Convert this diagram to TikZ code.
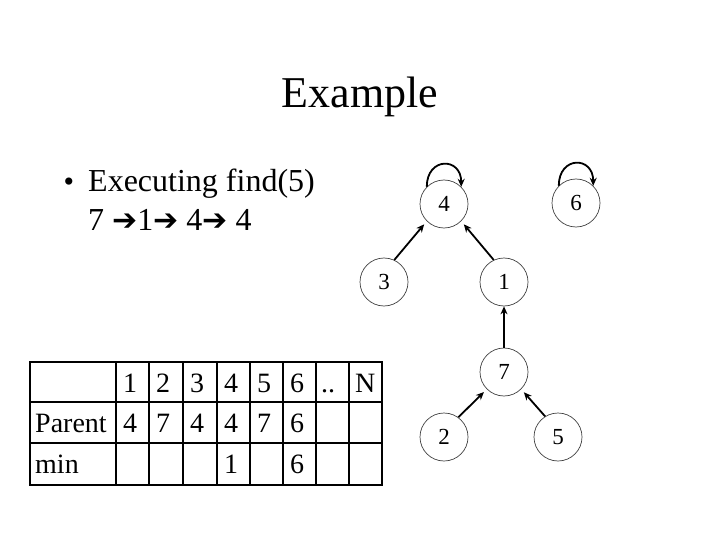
\documentclass[tikz,border=0pt]{standalone}
\usepackage{fontspec}
\setmainfont{Liberation Serif}
\newfontfamily\arrowfont{DejaVu Sans}
\usetikzlibrary{arrows.meta}
\newcommand{\bigarr}{{\arrowfont\fontsize{30}{30}\selectfont ➔}}
\begin{document}
\begin{tikzpicture}[x=1pt,y=-1pt,
 vert/.style={circle,draw=black!75,line width=0.7pt,minimum size=48pt,inner sep=0pt,font=\fontsize{23}{23}\selectfont},
 arr/.style={line width=1.8pt,-{Stealth[length=8pt,width=7pt]}},
 cell/.style={anchor=base west,inner sep=0pt,font=\fontsize{28}{28}\selectfont},
 inner/.style={line width=1.5pt},
 outer/.style={line width=2.5pt}]
\useasboundingbox (0,0) rectangle (720,540);
\node[anchor=base,inner sep=0pt,font=\fontsize{44}{44}\selectfont] (title) at (360,108) {Example};
\node[inner sep=0pt,font=\fontsize{30}{30}\selectfont] (bul) at (69,185) {•};
\node[anchor=base west,inner sep=0pt,font=\fontsize{32}{32}\selectfont] (l1) at (88,192) {Executing find(5)};
\node[anchor=base west,inner sep=0pt,font=\fontsize{32}{32}\selectfont] (l2) at (88,230) {7 \bigarr1\bigarr\ 4\bigarr\ 4};
% graph
\node[vert] (n4) at (444,204) {4};
\node[vert] (n6) at (576,203) {6};
\node[vert] (n3) at (384,282) {3};
\node[vert] (n1) at (504,282) {1};
\node[vert] (n7) at (504,372) {7};
\node[vert] (n2) at (444,437) {2};
\node[vert] (n5) at (558,437) {5};
\draw[arr] (n4.135) .. controls +(0,-30) and +(0,-30) .. (n4.45);
\draw[arr] (n6.135) .. controls +(0,-30) and +(0,-30) .. (n6.45);
\draw[arr,shorten >=4pt] (n3.65) -- (n4.225);
\draw[arr,shorten >=4pt] (n1.115) -- (n4.315);
\draw[arr] (n7) -- (n1);
\draw[arr,shorten >=4pt] (n2.54) -- (n7.225);
\draw[arr,shorten >=4pt] (n5.122) -- (n7.315);
% table
\foreach \x in {116,149,183,217,250,283,316,349} \draw[inner] (\x,362) -- (\x,485);
\foreach \y in {402,443} \draw[inner] (30,\y) -- (382,\y);
\draw[outer] (30,362) rectangle (382,485);
\node[cell] (h1) at (123,392) {1};
\node[cell] (h2) at (156,392) {2};
\node[cell] (h3) at (190,392) {3};
\node[cell] (h4) at (224,392) {4};
\node[cell] (h5) at (257,392) {5};
\node[cell] (h6) at (290,392) {6};
\node[cell] (h7) at (321,392) {..};
\node[cell] (h8) at (355,392) {N};
\node[cell] (pl) at (35,432) {Parent};
\node[cell] (p1) at (123,432) {4};
\node[cell] (p2) at (156,432) {7};
\node[cell] (p3) at (190,432) {4};
\node[cell] (p4) at (224,432) {4};
\node[cell] (p5) at (257,432) {7};
\node[cell] (p6) at (290,432) {6};
\node[cell] (ml) at (35,473) {min};
\node[cell] (m4) at (224,473) {1};
\node[cell] (m6) at (290,473) {6};
\end{tikzpicture}
\end{document}
